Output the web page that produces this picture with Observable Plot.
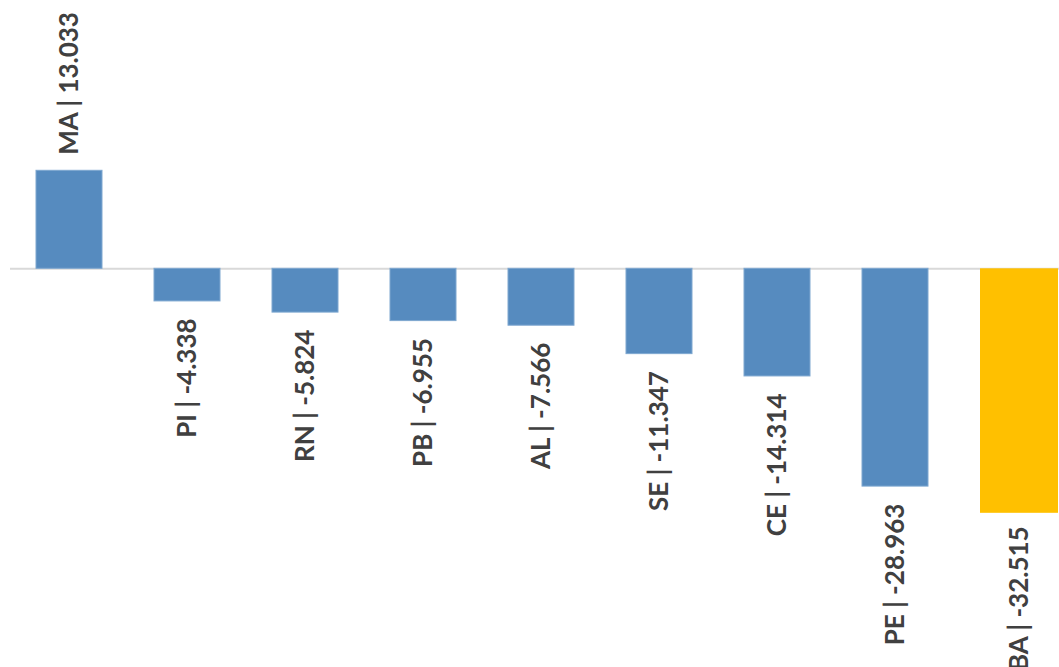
<!DOCTYPE html>
<html>
<head>
<meta charset="utf-8">
<script src="https://cdn.jsdelivr.net/npm/d3@7"></script>
<script src="https://cdn.jsdelivr.net/npm/@observablehq/plot@0.6"></script>
<style>
  html, body { margin: 0; padding: 0; background: #fff; overflow: hidden; }
  #chart svg { display: block; overflow: hidden; }
</style>
</head>
<body>
<div id="chart"></div>
<script>
const states = ["MA", "PI", "RN", "PB", "AL", "SE", "CE", "PE", "BA"];
const values = [13.033, -4.338, -5.824, -6.955, -7.566, -11.347, -14.314, -28.963, -32.515];
const highlight = "BA";

const fmt = v => v.toFixed(3);
const data = states.map((s, i) => ({
  state: s,
  value: values[i],
  label: `${s} | ${fmt(values[i])}`,
  hl: s === highlight
}));

const chart = Plot.plot({
  width: 1059,
  height: 667,
  marginLeft: 10,
  marginRight: 0,
  marginTop: 0,
  marginBottom: 0,
  style: { fontFamily: "Lato, 'Open Sans', sans-serif", background: "#fff" },
  x: { domain: states, range: [10, 1072], paddingInner: 0.44, paddingOuter: 0.22, axis: null },
  y: { domain: [35.68, -53.02], range: [0, 667], axis: null },
  marks: [
    Plot.ruleY([0], { stroke: "#d9d9d9", strokeWidth: 2 }),
    Plot.barY(data.filter(d => !d.hl), { x: "state", y: "value", fill: "#568bbf", stroke: "#7ea7d0", strokeWidth: 1 }),
    Plot.barY(data.filter(d => d.hl), { x: "state", y: "value", fill: "#ffc000", insetRight: -12 }),
    Plot.text(data.filter(d => d.value >= 0), {
      x: "state", y: "value", text: "label", rotate: -90, dy: -16,
      textAnchor: "start", lineAnchor: "middle",
      fontSize: 26, fontWeight: "bold", fill: "#404040"
    }),
    Plot.text(data.filter(d => d.value < 0 && !d.hl), {
      x: "state", y: "value", text: "label", rotate: -90, dy: 17,
      textAnchor: "end", lineAnchor: "middle",
      fontSize: 26, fontWeight: "bold", fill: "#404040"
    }),
    Plot.text(data.filter(d => d.value < 0 && d.hl), {
      x: "state", y: "value", text: "label", rotate: -90, dy: 13, dx: 6,
      textAnchor: "end", lineAnchor: "middle",
      fontSize: 26, fontWeight: "bold", fill: "#404040"
    })
  ]
});
document.getElementById("chart").append(chart);
</script>
</body>
</html>
